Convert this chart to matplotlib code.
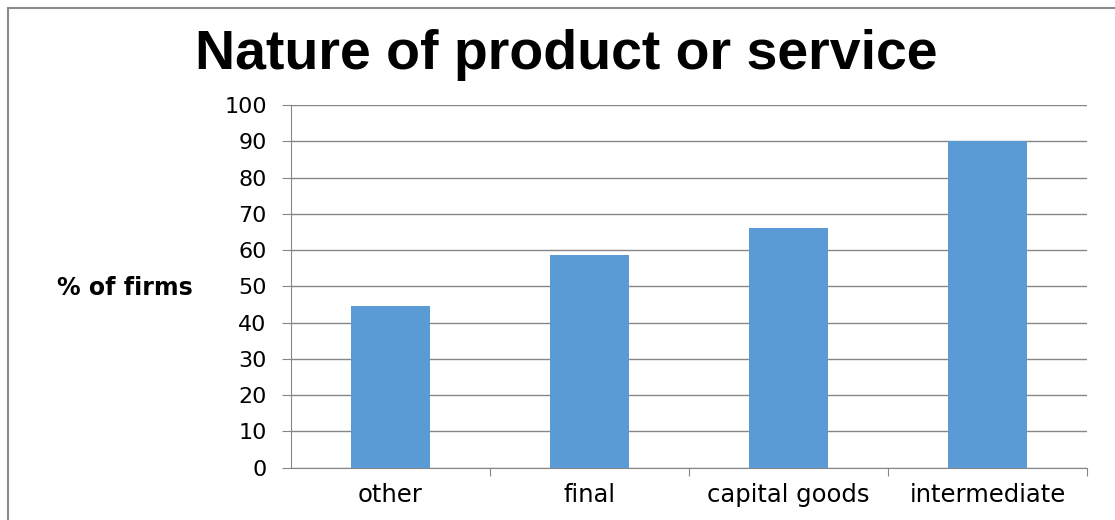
import matplotlib
matplotlib.use("Agg")
import matplotlib.pyplot as plt
from matplotlib.lines import Line2D
import numpy as np

categories = ["other", "final", "capital goods", "intermediate"]
values = [44.6, 58.6, 66.0, 90.0]
y_ticks = list(range(0, 101, 10))

plt.rcParams["font.family"] = ["DejaVu Sans"]

fig = plt.figure(figsize=(11.15, 5.2), dpi=100)
ax = fig.add_axes([0.261, 0.1006, 0.714, 0.6975])

x = np.arange(len(categories))
ax.bar(x, values, width=0.40, color="#5B9BD5", zorder=3)

ax.set_xlim(-0.5, len(categories) - 0.5)
ax.set_ylim(0, 100)
ax.set_yticks(y_ticks)
ax.tick_params(axis="y", labelsize=16, length=6.5, color="#868686", pad=11)
ax.yaxis.grid(True, color="#868686", linewidth=1.0, zorder=0)

# category labels between boundary ticks
ax.set_xticks(np.arange(len(categories)) + 0.5)
ax.set_xticklabels([])
ax.tick_params(axis="x", length=5.5, color="#868686")
ax.set_xticks(x, minor=True)
ax.set_xticklabels(categories, minor=True, fontsize=17.5)
ax.tick_params(axis="x", which="minor", length=0, pad=11)

for side in ("top", "right"):
    ax.spines[side].set_visible(False)
for side in ("left", "bottom"):
    ax.spines[side].set_color("#868686")

fig.text(0.508, 0.894, "Nature of product or service", ha="center", va="center",
         fontsize=40, fontweight="bold", family="Liberation Sans")
fig.text(0.112, 0.446, "% of firms", ha="center", va="center",
         fontsize=17, fontweight="bold")

# chart frame (only top and left visible in the crop)
fig.add_artist(Line2D([8 / 1115, 1], [1 - 7.5 / 520] * 2, color="#8a8a8a", lw=1.5))
fig.add_artist(Line2D([8 / 1115] * 2, [0, 1 - 7.5 / 520], color="#8a8a8a", lw=1.5))

fig.savefig("out.png", dpi=100)
